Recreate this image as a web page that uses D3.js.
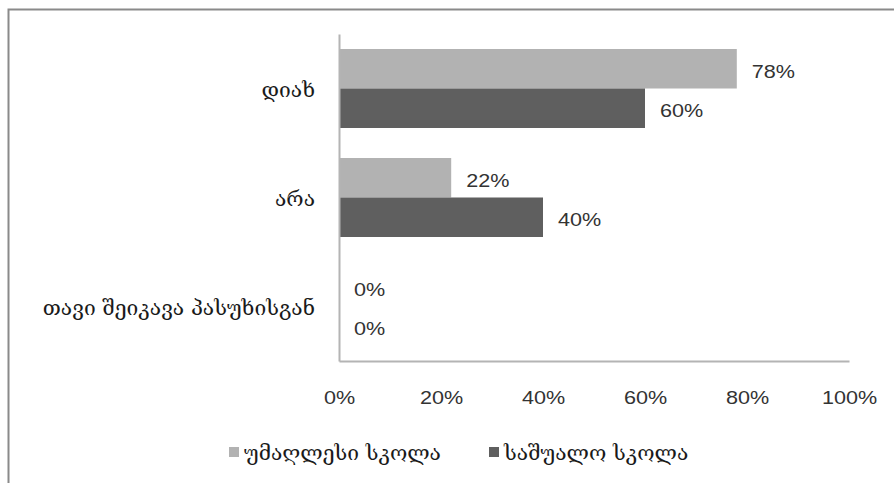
<!DOCTYPE html>
<html><head><meta charset="utf-8">
<script src="https://cdn.jsdelivr.net/npm/d3@7"></script>
<style>body{margin:0;background:#fff}</style></head>
<body><svg id="c" width="894" height="483"></svg>
<script>
const categories = ["დიახ", "არა", "თავი შეიკავა პასუხისგან"];
const seriesNames = ["უმაღლესი სკოლა", "საშუალო სკოლა"];
const higherSchool = [78, 22, 0];
const secondarySchool = [60, 40, 0];
const xTicks = [0, 20, 40, 60, 80, 100];
const colors = ["#b2b2b2", "#5f5f5f"];

const series = [higherSchool, secondarySchool];
const svg = d3.select("#c");
const geoFont = "'DejaVu Serif','DejaVu Sans',serif";
const numFont = "'Liberation Sans',Arial,sans-serif";
const SX = 1.2;

svg.append("rect").attr("x", 8.5).attr("y", 9.5).attr("width", 900).attr("height", 500)
  .attr("fill", "#fff").attr("stroke", "#8a8a8a").attr("stroke-width", 2);

const pLeft = 339, pRight = 849, pTop = 34, pBottom = 361;
const x = d3.scaleLinear().domain([0, 100]).range([pLeft, pRight]);
const y = d3.scaleBand().domain(categories).range([pTop, pBottom]).paddingInner(30/109).paddingOuter(15/109);
const ys = d3.scaleBand().domain([0, 1]).range([0, y.bandwidth()]);

function stretchText(sel, xAcc, yAcc) {
  sel.attr("transform", (d, i) => `translate(${xAcc(d, i)},${yAcc(d, i)}) scale(${SX},1)`);
}

// bars
series.forEach((vals, si) => {
  const g = svg.append("g");
  g.selectAll("rect").data(categories).join("rect")
    .attr("x", x(0))
    .attr("y", c => y(c) + ys(si))
    .attr("width", (c, i) => x(vals[i]) - x(0))
    .attr("height", ys.bandwidth())
    .attr("fill", colors[si]);
  const t = g.selectAll("text").data(categories).join("text")
    .attr("font-family", numFont).attr("font-size", 18).attr("fill", "#333")
    .attr("dominant-baseline", "middle")
    .text((c, i) => vals[i] + "%");
  stretchText(t, (c, i) => x(vals[i]) + 15, c => y(c) + ys(si) + ys.bandwidth() / 2 + 4);
});

// axes
const xAxis = svg.append("g").attr("transform", `translate(0,${pBottom})`)
  .call(d3.axisBottom(x).tickValues(xTicks).tickSize(0).tickFormat(d => d + "%"));
xAxis.select(".domain").attr("stroke", "#b4b4b4").attr("stroke-width", 2);
xAxis.selectAll(".tick text").attr("font-family", numFont).attr("font-size", 18).attr("fill", "#333")
  .attr("y", 0).attr("dy", null).attr("dominant-baseline", "middle")
  .attr("transform", `translate(0,38) scale(${SX},1)`);

const yAxis = svg.append("g").attr("transform", `translate(${pLeft},0)`)
  .call(d3.axisLeft(y).tickSize(0).tickPadding(24));
yAxis.select(".domain").attr("stroke", "#b4b4b4").attr("stroke-width", 2);
yAxis.selectAll(".tick text").attr("font-family", geoFont).attr("font-size", 21).attr("fill", "#1a1a1a")
  .attr("dy", "0.4em");

// legend
const leg = svg.append("g");
const legX = [229, 489];
seriesNames.forEach((n, i) => {
  leg.append("rect").attr("x", legX[i]).attr("y", 447).attr("width", 10).attr("height", 10).attr("fill", colors[i]);
  leg.append("text").attr("x", legX[i] + 15).attr("y", 454).attr("dominant-baseline", "middle")
    .attr("font-family", geoFont).attr("font-size", 21).attr("fill", "#1a1a1a").text(n);
});
</script></body></html>
